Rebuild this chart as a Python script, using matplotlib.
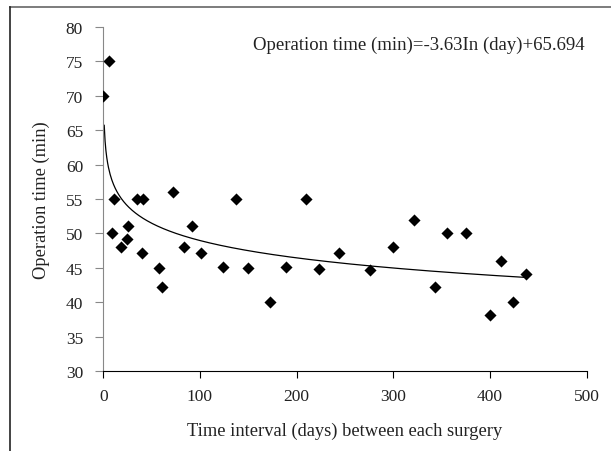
import numpy as np
import matplotlib
matplotlib.use('Agg')
import matplotlib.pyplot as plt
from matplotlib.lines import Line2D

# intervalo entre cirugías (días) y tiempo de operación (min)
dias = [0, 6, 9, 11, 18, 25, 26, 35, 40, 41, 58, 61, 72, 84, 92, 101, 124, 137,
        150, 172, 189, 210, 223, 244, 276, 300, 321, 343, 356, 375, 400, 412, 424, 437]
tiempo = [70, 75, 50, 55, 48.1, 49.2, 51.1, 55, 47.2, 55, 45, 42.2, 56, 48, 51.1, 47.2, 45.1, 55,
          45, 40.1, 45.1, 55, 44.9, 47.1, 44.75, 48.1, 52, 42.2, 50.1, 50.1, 38.1, 46, 40, 44.1]

# coeficientes de la curva logarítmica mostrada en el gráfico
coef_a = -3.63
coef_b = 65.694
x_fin = 437

plt.rcParams['font.family'] = 'Liberation Serif'

fig = plt.figure(figsize=(6.11, 4.52), dpi=100)
ax = fig.add_axes([0.169, 0.1763, 0.791, 0.7624])

ax.scatter(dias, tiempo, marker='D', s=38, color='black', zorder=3, linewidths=0)

xs = np.linspace(1, x_fin, 500)
ax.plot(xs, coef_a * np.log(xs) + coef_b, color='black', linewidth=0.9)

ax.set_xlim(0, 500)
ax.set_ylim(30, 80)
ax.set_xticks(range(0, 501, 100))
ax.set_yticks(range(30, 81, 5))
ax.spines['top'].set_visible(False)
ax.spines['right'].set_visible(False)
ax.spines['left'].set_color('#888888')
ax.spines['bottom'].set_color('black')
ax.tick_params(axis='y', direction='out', length=5.5, color='#888888', labelsize=12.5,
               labelcolor='#222222', pad=9)
ax.tick_params(axis='x', direction='out', length=5, color='black', labelsize=12.5,
               labelcolor='#222222', pad=7)

ax.set_xlabel('Time interval (days) between each surgery', fontsize=13.3, labelpad=13,
              color='#222222')
ax.set_ylabel('Operation time (min)', fontsize=13.3, labelpad=11, color='#222222')

ax.text(0.997, 0.95, 'Operation time (min)=-3.63In (day)+65.694', transform=ax.transAxes,
        ha='right', va='center', fontsize=13.5, color='#222222')

# marco parcial de la figura (arriba e izquierda)
fig.add_artist(Line2D([9.5 / 611, 1], [1 - 7.5 / 452] * 2, transform=fig.transFigure,
                      color='#666666', linewidth=1.2))
fig.add_artist(Line2D([9.5 / 611] * 2, [0, 1 - 7.5 / 452], transform=fig.transFigure,
                      color='#222222', linewidth=1.2))

fig.savefig('out.png', dpi=100)
